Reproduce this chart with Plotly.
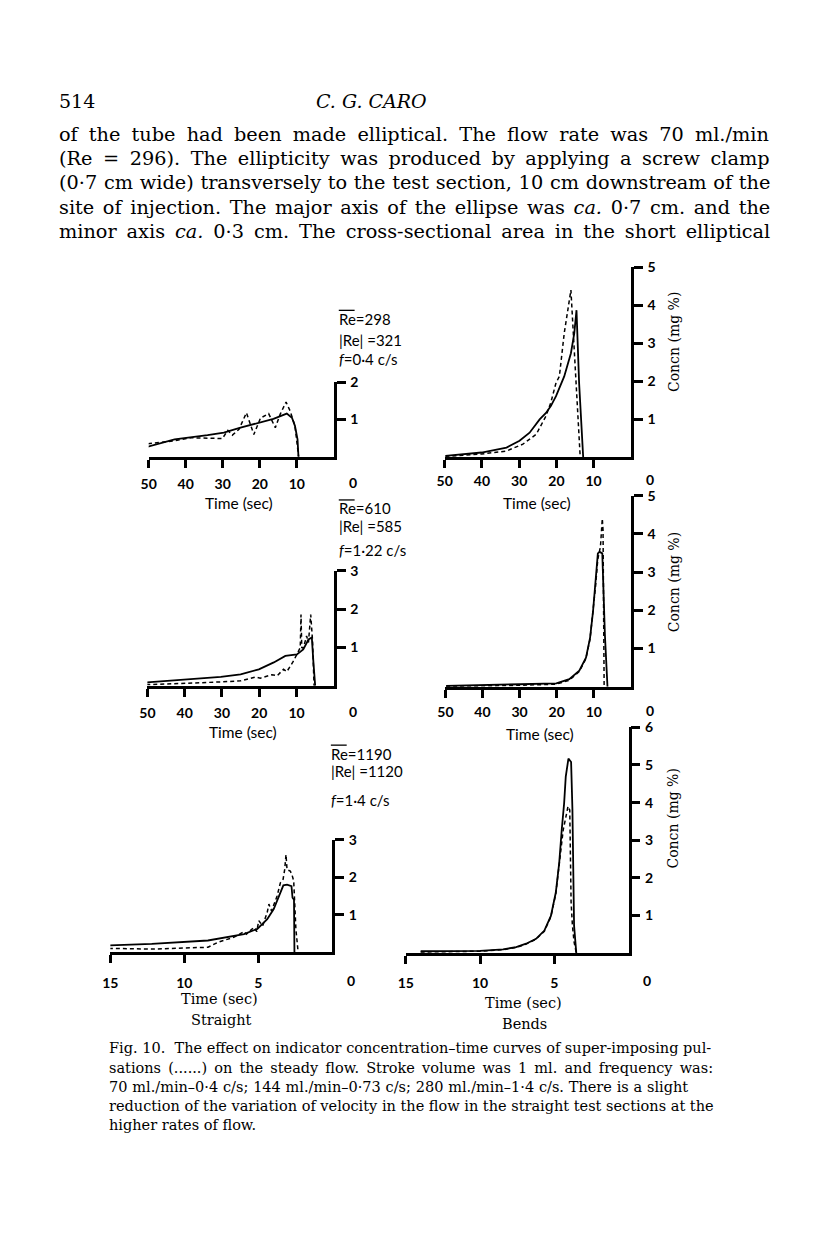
import plotly.graph_objects as go

PAGE_W, PAGE_H = 816, 1249
OFF = 8                      # default body margin of the written page
W, H = PAGE_W - OFF, PAGE_H - 2 * OFF

# ---------------- data (time in sec, concentration in mg %) ----------------
# Straight, Re = 298
a_steady_t = [50.2, 43.0, 34.1, 29.7, 25.2, 20.7, 16.3, 12.7, 11.3, 10.5, 9.8, 9.55]
a_steady_c = [0.27, 0.47, 0.58, 0.65, 0.78, 0.90, 1.02, 1.16, 1.05, 0.83, 0.47, 0.0]
a_puls_t = [50.2, 43.0, 38.6, 30.1, 28.6, 27.4, 25.6, 23.6, 21.6, 19.8, 17.6, 15.8, 14.5, 12.9, 11.8, 10.5, 9.5]
a_puls_c = [0.35, 0.43, 0.51, 0.49, 0.71, 0.58, 0.74, 1.18, 0.60, 1.04, 1.16, 0.78, 1.14, 1.47, 1.23, 0.83, 0.0]

# Bends, Re = 298
b_steady_t = [49.8, 40.1, 33.4, 29.9, 27.2, 24.5, 22.8, 21.5, 20.1, 17.9, 16.1, 15.2, 14.6, 13.9, 12.8]
b_steady_c = [0.04, 0.13, 0.26, 0.44, 0.65, 1.00, 1.17, 1.35, 1.61, 2.13, 2.74, 3.26, 3.87, 1.96, 0.0]
b_puls_t = [49.8, 40.1, 33.4, 29.0, 25.4, 22.8, 21.5, 20.1, 19.2, 17.9, 16.1, 15.2, 14.4, 13.6]
b_puls_c = [0.03, 0.09, 0.17, 0.35, 0.61, 1.09, 1.44, 1.96, 2.13, 3.26, 4.40, 2.83, 1.52, 0.0]

# Straight, Re = 610
c_steady_t = [50.3, 40.1, 30.3, 25.0, 20.1, 16.1, 13.0, 9.9, 8.2, 6.8, 5.9, 5.5, 5.0]
c_steady_c = [0.09, 0.16, 0.23, 0.30, 0.43, 0.61, 0.78, 0.82, 0.95, 1.21, 1.26, 0.65, 0.0]
c_puls_t = [50.3, 40.1, 30.3, 25.0, 21.0, 19.7, 16.6, 15.2, 13.5, 12.6, 10.8, 9.5, 9.0, 8.8, 8.6, 8.2, 7.3, 6.8, 6.2, 5.7, 5.3]
c_puls_c = [0.03, 0.06, 0.10, 0.13, 0.23, 0.20, 0.29, 0.26, 0.43, 0.37, 0.65, 0.90, 1.0, 1.86, 1.0, 0.98, 1.30, 1.13, 1.86, 1.17, 0.0]

# Bends, Re = 610
d_steady_t = [49.8, 40.0, 29.0, 20.1, 16.6, 13.9, 12.1, 11.0, 10.2, 9.5, 8.9, 8.4, 7.7, 7.0, 6.3]
d_steady_c = [0.02, 0.04, 0.06, 0.09, 0.20, 0.42, 0.76, 1.28, 1.97, 2.75, 3.49, 3.53, 3.49, 1.37, 0.0]
d_puls_t = [49.8, 40.0, 29.0, 20.1, 16.6, 13.9, 12.1, 11.0, 10.2, 9.5, 8.9, 8.2, 7.7, 7.5, 7.2]
d_puls_c = [0.01, 0.02, 0.04, 0.07, 0.17, 0.40, 0.74, 1.25, 1.93, 2.65, 3.35, 3.66, 4.40, 4.10, 0.0]

# Straight, Re = 1190
e_steady_t = [15.1, 12.2, 8.4, 7.07, 5.96, 5.06, 4.39, 3.95, 3.62, 3.30, 3.05, 2.75, 2.68, 2.58, 2.55]
e_steady_c = [0.18, 0.22, 0.31, 0.40, 0.48, 0.62, 0.88, 1.15, 1.46, 1.78, 1.80, 1.76, 1.45, 1.40, 0.0]
e_puls_t = [15.1, 12.2, 8.4, 7.74, 6.63, 5.96, 5.8, 5.29, 5.1, 4.96, 4.7, 4.39, 4.28, 4.1, 3.72, 3.5, 3.32, 3.21, 3.12, 3.05, 2.83, 2.72, 2.6, 2.45, 2.3]
e_puls_c = [0.10, 0.08, 0.13, 0.26, 0.40, 0.55, 0.48, 0.66, 0.55, 0.84, 0.70, 1.06, 1.28, 1.10, 1.50, 1.85, 1.94, 2.20, 2.60, 2.20, 2.16, 2.07, 1.90, 0.60, 0.0]

# Bends, Re = 1190
f_steady_t = [14.0, 10.0, 8.45, 7.57, 6.9, 6.23, 5.67, 5.23, 4.9, 4.67, 4.5, 4.34, 4.23, 4.05, 3.87, 3.78, 3.67, 3.52]
f_steady_c = [0.05, 0.06, 0.10, 0.16, 0.25, 0.38, 0.60, 0.99, 1.61, 2.40, 3.28, 3.98, 4.69, 5.17, 5.08, 3.81, 0.73, 0.0]
f_puls_t = [14.0, 10.0, 8.45, 7.57, 6.9, 6.23, 5.67, 5.23, 4.9, 4.67, 4.4, 4.23, 4.08, 3.96, 3.87, 3.78, 3.67, 3.52]
f_puls_c = [0.03, 0.05, 0.09, 0.15, 0.24, 0.37, 0.58, 0.97, 1.58, 2.35, 3.28, 3.60, 3.90, 3.80, 1.35, 0.73, 0.30, 0.0]

long_ticks = [50, 40, 30, 20, 10]
short_ticks = [15, 10, 5]

header_page = "514"
header_author = "C. G. CARO"
paragraph = [
    "of the tube had been made elliptical. The flow rate was 70 ml./min",
    "(Re = 296). The ellipticity was produced by applying a screw clamp",
    "(0·7 cm wide) transversely to the test section, 10 cm downstream of the",
    "site of injection. The major axis of the ellipse was <i>ca.</i> 0·7 cm. and the",
    "minor axis <i>ca.</i> 0·3 cm. The cross-sectional area in the short elliptical",
]
paragraph_spacing = [5.0, 4.4, 0.6, 2.5, 3.8]
caption = [
    "Fig. 10.  The effect on indicator concentration–time curves of super-imposing pul-",
    "sations (......) on the steady flow. Stroke volume was 1 ml. and frequency was:",
    "70 ml./min–0·4 c/s; 144 ml./min–0·73 c/s; 280 ml./min–1·4 c/s. There is a slight",
    "reduction of the variation of velocity in the flow in the straight test sections at the",
    "higher rates of flow.",
]
caption_spacing = [0.0, 2.5, 0.2, 0.0, 0.0]
param_labels = [
    ("298", "321", "0·4"),
    ("610", "585", "1·22"),
    ("1190", "1120", "1·4"),
]

# ---------------- layout helpers ----------------
SANS = "Lato"
SERIF = "DejaVu Serif"


def px(x):
    return (x - OFF) / W


def py(y):
    return 1 - (y - OFF) / H


panels = [
    dict(s=(a_steady_t, a_steady_c), p=(a_puls_t, a_puls_c), ticks=long_ticks, tmax=50, cmax=2,
         x0=142, x1=329, yb=451, yt=376, lab_y=477),
    dict(s=(b_steady_t, b_steady_c), p=(b_puls_t, b_puls_c), ticks=long_ticks, tmax=50, cmax=5,
         x0=441, x1=629, yb=451.7, yt=260, lab_y=474),
    dict(s=(c_steady_t, c_steady_c), p=(c_puls_t, c_puls_c), ticks=long_ticks, tmax=50, cmax=3,
         x0=140.7, x1=329, yb=681.7, yt=566, lab_y=708),
    dict(s=(d_steady_t, d_steady_c), p=(d_puls_t, d_puls_c), ticks=long_ticks, tmax=50, cmax=5,
         x0=441.7, x1=629, yb=682.7, yt=490.2, lab_y=707),
    dict(s=(e_steady_t, e_steady_c), p=(e_puls_t, e_puls_c), ticks=short_ticks, tmax=15, cmax=3,
         x0=103.3, x1=327.3, yb=950, yt=836.7, lab_y=979),
    dict(s=(f_steady_t, f_steady_c), p=(f_puls_t, f_puls_c), ticks=short_ticks, tmax=15, cmax=6,
         x0=401.7, x1=626.7, yb=951, yt=723.6, lab_y=979),
]

fig = go.Figure()
annotations = []
shapes = []
layout_axes = {}

tick_font = dict(family=SANS, size=14, color="black", weight="bold")

for i, p in enumerate(panels, start=1):
    xa = "x" if i == 1 else f"x{i}"
    ya = "y" if i == 1 else f"y{i}"
    fig.add_trace(go.Scatter(x=p["s"][0], y=p["s"][1], mode="lines",
                             line=dict(color="black", width=1.8),
                             xaxis=xa, yaxis=ya, showlegend=False, hoverinfo="skip",
                             cliponaxis=False))
    fig.add_trace(go.Scatter(x=p["p"][0], y=p["p"][1], mode="lines",
                             line=dict(color="black", width=1.5, dash="4px,3px"),
                             xaxis=xa, yaxis=ya, showlegend=False, hoverinfo="skip",
                             cliponaxis=False))
    std_x = int(round(max(p["lab_y"] - p["yb"] - 21, 0)))
    layout_axes["xaxis" if i == 1 else f"xaxis{i}"] = dict(
        domain=[px(p["x0"]), px(p["x1"])], range=[p["tmax"], 0], anchor=ya,
        showline=True, linecolor="black", linewidth=2.5, showgrid=False, zeroline=False,
        ticks="outside", ticklen=8, tickwidth=2.5, tickcolor="black",
        tickvals=p["ticks"], ticktext=[str(v) for v in p["ticks"]],
        tickfont=tick_font, ticklabelstandoff=std_x, fixedrange=True,
    )
    layout_axes["yaxis" if i == 1 else f"yaxis{i}"] = dict(
        domain=[py(p["yb"]), py(p["yt"])], range=[0, p["cmax"]], anchor=xa, side="right",
        showline=True, linecolor="black", linewidth=2.5, showgrid=False, zeroline=False,
        ticks="outside", ticklen=9, tickwidth=2.5, tickcolor="black",
        tickvals=list(range(1, p["cmax"] + 1)),
        ticktext=[str(v) for v in range(1, p["cmax"] + 1)],
        tickfont=tick_font, ticklabelstandoff=2, fixedrange=True,
    )
    # the "0" of the concentration scale, set below the time axis
    annotations.append(dict(x=px(p["x1"] + 19), y=py(p["lab_y"]), xref="paper", yref="paper",
                            text="0", showarrow=False, font=tick_font,
                            xanchor="center", yanchor="middle"))

fig.update_layout(**layout_axes)


def text(x, y, s, size, family, xanchor="left", textangle=0, weight="normal", style="normal"):
    annotations.append(dict(x=px(x), y=py(y), xref="paper", yref="paper", text=s,
                            showarrow=False, xanchor=xanchor, yanchor="middle",
                            textangle=textangle, borderpad=0,
                            font=dict(family=family, size=size, color="black",
                                      weight=weight, style=style)))


def spaced(s, ws):
    if ws <= 0.05:
        return s
    return '<span style="word-spacing:%.1fpx">%s</span>' % (ws, s)


# header and body text
text(50, 93, header_page, 19, SERIF)
text(367, 93, header_author, 19, SERIF, xanchor="center", style="italic")
for k, line in enumerate(paragraph):
    text(50, 126 + k * 24.6, spaced(line, paragraph_spacing[k]), 19.3, SERIF)
for k, line in enumerate(caption):
    text(101, 1047 + k * 19.3, spaced(line, caption_spacing[k]), 14.5, SERIF)

# Reynolds / frequency labels
param_pos = [(333, 312, 333, 353), (333, 503, 521, 545), (325, 750, 768, 797)]
for (re_m, re_a, fr), (lx, y1, y2, y3) in zip(param_labels, param_pos):
    text(lx, y1, "Re=" + re_m, 15, SANS)
    text(lx, y2, "|Re| =" + re_a, 15, SANS)
    text(lx, y3, "<i>f</i>=" + fr + " c/s", 15, SANS)
    shapes.append(dict(type="line", xref="paper", yref="paper",
                       x0=px(lx + 1), x1=px(lx + 17), y0=py(y1 - 8.5), y1=py(y1 - 8.5),
                       line=dict(color="black", width=1.3)))

# axis titles
text(233, 498, "Time (sec)", 15.5, SANS, xanchor="center")
text(534, 498, "Time (sec)", 15.5, SANS, xanchor="center")
text(237, 728, "Time (sec)", 15.5, SANS, xanchor="center")
text(537, 730, "Time (sec)", 15.5, SANS, xanchor="center")
text(214, 997, "Time (sec)", 14.5, SERIF, xanchor="center")
text(216, 1018, "Straight", 14.5, SERIF, xanchor="center")
text(521, 1001, "Time (sec)", 14.5, SERIF, xanchor="center")
text(522, 1022, "Bends", 14.5, SERIF, xanchor="center")
for cy in (335, 577, 815):
    text(672, cy, "Concn (mg %)", 14, SERIF, xanchor="center", textangle=-90)

fig.update_layout(
    width=W, height=H, margin=dict(l=0, r=0, t=0, b=0),
    paper_bgcolor="white", plot_bgcolor="white",
    annotations=annotations, shapes=shapes, showlegend=False,
)

fig.write_html("out.html", config={"displayModeBar": False})
